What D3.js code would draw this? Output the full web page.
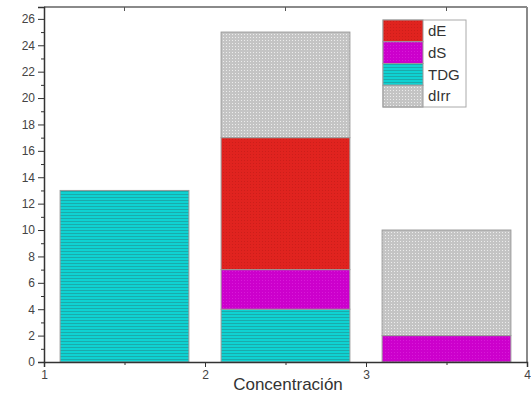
<!DOCTYPE html>
<html><head><meta charset="utf-8">
<script src="https://cdn.jsdelivr.net/npm/d3@7/dist/d3.min.js"></script>
<style>body{margin:0;background:#fff}svg{display:block}</style>
</head><body>
<script>
const categories = [1.5, 2.5, 3.5];
const seriesNames = ["TDG", "dS", "dE", "dIrr"];
const TDG = [13, 4, 0];
const dS = [0, 3, 2];
const dE = [0, 10, 0];
const dIrr = [0, 8, 8];
const legendOrder = ["dE", "dS", "TDG", "dIrr"];
const xTicks = [1, 2, 3, 4];
const yTicks = [0,2,4,6,8,10,12,14,16,18,20,22,24,26];

const W = 531, H = 394;
const svg = d3.select("body").append("svg").attr("width", W).attr("height", H);
const x = d3.scaleLinear().domain([1, 4]).range([44, 527]);
const y = d3.scaleLinear().domain([0, 26.9]).range([362, 7]);

const defs = svg.append("defs");
function pat(id, bg, fg, kind) {
  const p = defs.append("pattern").attr("id", id).attr("patternUnits", "userSpaceOnUse")
    .attr("width", 3).attr("height", 3);
  p.append("rect").attr("width", 3).attr("height", 3).attr("fill", bg);
  if (kind === "stripe") p.append("rect").attr("y", 2).attr("width", 3).attr("height", 1).attr("fill", fg);
  else p.append("rect").attr("x", 1).attr("y", 1).attr("width", 1).attr("height", 1).attr("fill", fg);
}
pat("p-TDG", "#0fd2d2", "#1aabab", "stripe");
pat("p-dS", "#cc00cc", "#d81ad8", "dot");
pat("p-dE", "#e0231f", "#cc1e1a", "dot");
pat("p-dIrr", "#c4c4c4", "#ececec", "dot");

const rows = categories.map((c, i) => ({c, TDG: TDG[i], dS: dS[i], dE: dE[i], dIrr: dIrr[i]}));
const stack = d3.stack().keys(seriesNames)(rows);
const bw = 0.8;

stack.forEach(layer => {
  svg.append("g").selectAll("rect").data(layer.filter(d => d[1] - d[0] > 0)).join("rect")
    .attr("x", d => x(d.data.c - bw/2))
    .attr("width", d => x(d.data.c + bw/2) - x(d.data.c - bw/2))
    .attr("y", d => y(d[1]))
    .attr("height", d => y(d[0]) - y(d[1]))
    .attr("fill", `url(#p-${layer.key})`)
    .attr("stroke", "#9a9a9a").attr("stroke-width", 1);
});

// frame
svg.append("line").attr("x1", x(1)).attr("x2", x(4)).attr("y1", 7).attr("y2", 7).attr("stroke", "#8a8a8a").attr("stroke-width", 2);
svg.append("line").attr("x1", x(4)).attr("x2", x(4)).attr("y1", 7).attr("y2", 362).attr("stroke", "#8a8a8a").attr("stroke-width", 2);
svg.append("g").selectAll("line").data([1.5, 2.5, 3.5]).join("line")
  .attr("x1", d => x(d)).attr("x2", d => x(d)).attr("y1", 7).attr("y2", 11).attr("stroke", "#555");

// axes
svg.append("g").attr("transform", `translate(${x(1)},0)`)
  .call(d3.axisLeft(y).tickValues(yTicks).tickSize(6).tickPadding(3));
svg.append("g").attr("transform", `translate(${x(1)},0)`)
  .call(d3.axisLeft(y).tickValues(d3.range(1, 27, 2)).tickSize(3).tickFormat(""))
  .select(".domain").remove();
svg.append("g").attr("transform", `translate(0,${y(0)})`)
  .call(d3.axisBottom(x).tickValues(xTicks).tickFormat(d3.format("d")).tickSize(5).tickPadding(3));
svg.append("g").attr("transform", `translate(0,${y(0)})`)
  .call(d3.axisBottom(x).tickValues([1.5, 2.5, 3.5]).tickSize(3).tickFormat(""))
  .select(".domain").remove();
svg.selectAll(".tick text").attr("font-family", "Liberation Sans, Arial, sans-serif").attr("font-size", 12).attr("fill", "#444");
svg.selectAll(".tick line").attr("stroke", "#333");
svg.selectAll(".domain").attr("stroke", "#333").attr("stroke-width", 1.5);

svg.append("text").attr("x", 288).attr("y", 390).attr("text-anchor", "middle")
  .attr("font-family", "Liberation Sans, Arial, sans-serif").attr("font-size", 17).attr("fill", "#333")
  .text("Concentración");

// legend
const lg = svg.append("g").attr("transform", "translate(383,20)");
lg.append("rect").attr("width", 83).attr("height", 87).attr("fill", "#fff").attr("stroke", "#aaa");
legendOrder.forEach((k, i) => {
  lg.append("rect").attr("x", 0).attr("y", i * 21.75).attr("width", 40).attr("height", 21.75)
    .attr("fill", `url(#p-${k})`).attr("stroke", "#999");
  lg.append("text").attr("x", 45).attr("y", i * 21.75 + 16).attr("font-family", "Liberation Sans, Arial, sans-serif")
    .attr("font-size", 15).attr("fill", "#333").text(k);
});
</script>
</body></html>
